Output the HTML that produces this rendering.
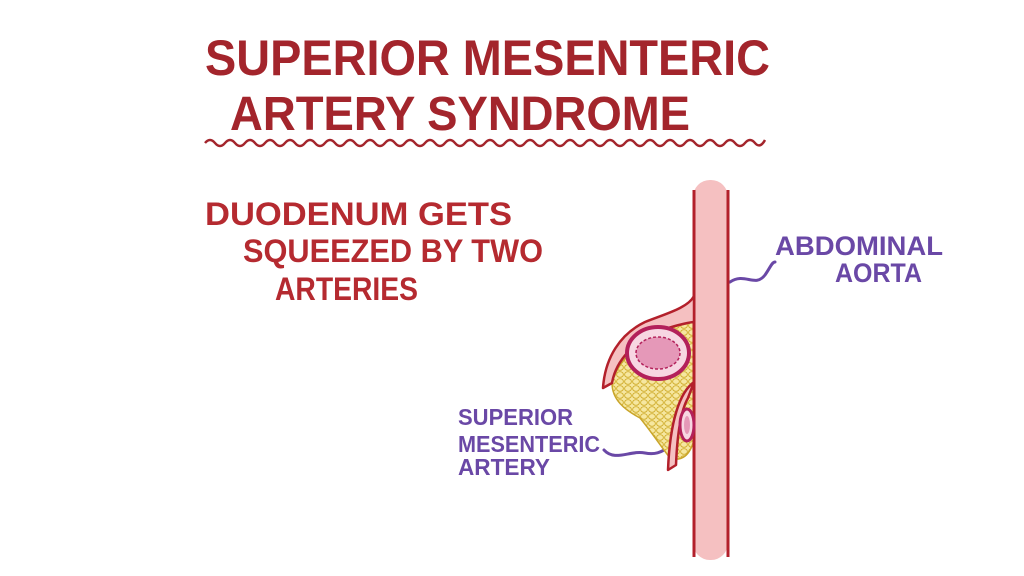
<!DOCTYPE html>
<html><head><meta charset="utf-8"><style>
html,body{margin:0;padding:0;background:#fff;}
svg{display:block}
text{font-family:"Liberation Sans",sans-serif;font-weight:bold;}
</style></head><body>
<svg width="1024" height="576" viewBox="0 0 1024 576" xmlns="http://www.w3.org/2000/svg">
<defs>
<pattern id="fat" width="8" height="7" patternUnits="userSpaceOnUse">
<rect width="8" height="7" fill="#f6e7a0"/>
<ellipse cx="4" cy="3.5" rx="3.4" ry="2.8" fill="none" stroke="#d0ad2e" stroke-width="0.9"/>
</pattern>
</defs>
<rect width="1024" height="576" fill="#fff"/>
<g fill="#a3252c">
<text x="205" y="75" font-size="50" textLength="565" lengthAdjust="spacingAndGlyphs">SUPERIOR MESENTERIC</text>
<text x="230" y="130" font-size="48" textLength="460" lengthAdjust="spacingAndGlyphs">ARTERY SYNDROME</text>
</g>
<path d="M205 143 q5 -6 10 0 t10 0 t10 0 t10 0 t10 0 t10 0 t10 0 t10 0 t10 0 t10 0 t10 0 t10 0 t10 0 t10 0 t10 0 t10 0 t10 0 t10 0 t10 0 t10 0 t10 0 t10 0 t10 0 t10 0 t10 0 t10 0 t10 0 t10 0 t10 0 t10 0 t10 0 t10 0 t10 0 t10 0 t10 0 t10 0 t10 0 t10 0 t10 0 t10 0 t10 0 t10 0 t10 0 t10 0 t10 0 t10 0 t10 0 t10 0 t10 0 t10 0 t10 0 t10 0 t10 0 t10 0 t10 0 t10 -3" fill="none" stroke="#a3252c" stroke-width="2.5"/>
<g fill="#b52a30">
<text x="205" y="225" font-size="32" textLength="307" lengthAdjust="spacingAndGlyphs">DUODENUM GETS</text>
<text x="243" y="262" font-size="32" textLength="300" lengthAdjust="spacingAndGlyphs">SQUEEZED BY TWO</text>
<text x="275" y="300" font-size="32" textLength="143" lengthAdjust="spacingAndGlyphs">ARTERIES</text>
</g>
<g fill="#6a48a6">
<text x="775" y="255" font-size="27" textLength="168" lengthAdjust="spacingAndGlyphs">ABDOMINAL</text>
<text x="835" y="282" font-size="27" textLength="87" lengthAdjust="spacingAndGlyphs">AORTA</text>
<text x="458" y="425" font-size="23" textLength="115" lengthAdjust="spacingAndGlyphs">SUPERIOR</text>
<text x="458" y="452" font-size="23" textLength="142" lengthAdjust="spacingAndGlyphs">MESENTERIC</text>
<text x="458" y="475" font-size="23" textLength="92" lengthAdjust="spacingAndGlyphs">ARTERY</text>
</g>
<g fill="none" stroke="#6a48a6" stroke-width="3" stroke-linecap="round">
<path d="M730 282 C745 272 755 288 765 275 C770 268 772 262 775 262"/>
<path d="M604 450 C615 462 630 450 645 453 C660 456 665 448 672 446"/>
</g>
<!-- fat -->
<path d="M612 383 C618 360 640 340 668 328 L694 322 L694 440 C690 455 682 462 670 458 C660 445 650 430 640 418 C625 410 612 400 612 383Z" fill="url(#fat)" stroke="#c9a52a" stroke-width="1.5"/>
<!-- aorta -->
<rect x="693" y="180" width="35" height="380" rx="17" fill="#f5c0c1"/>
<line x1="694" y1="190" x2="694" y2="557" stroke="#b3202b" stroke-width="3"/>
<line x1="728" y1="190" x2="728" y2="557" stroke="#b3202b" stroke-width="3"/>
<!-- upper branch -->
<path d="M694 296 C688 308 665 314 645 322 C620 334 605 358 603 388 L612 383 C616 360 635 340 662 330 C680 324 692 322 694 322Z" fill="#f5c0c1" stroke="#b3202b" stroke-width="2.5" stroke-linejoin="round"/>
<!-- SMA thin branch -->
<path d="M694 382 C680 392 670 420 668 470 L676 465 C677 440 680 412 688 398Z" fill="#f5c0c1" stroke="#b3202b" stroke-width="2.5" stroke-linejoin="round"/>
<!-- duodenum -->
<ellipse cx="658" cy="353" rx="31" ry="26" fill="#f7d6e2" stroke="#b3205a" stroke-width="4"/>
<ellipse cx="658" cy="353" rx="22" ry="16" fill="#e598b8" stroke="#b3205a" stroke-width="1.5" stroke-dasharray="3 2"/>
<!-- small vein -->
<ellipse cx="687" cy="425" rx="7" ry="16" fill="#f7d6e2" stroke="#b3205a" stroke-width="3"/>
<ellipse cx="687" cy="425" rx="3" ry="9" fill="#e598b8"/>
</svg>
</body></html>
